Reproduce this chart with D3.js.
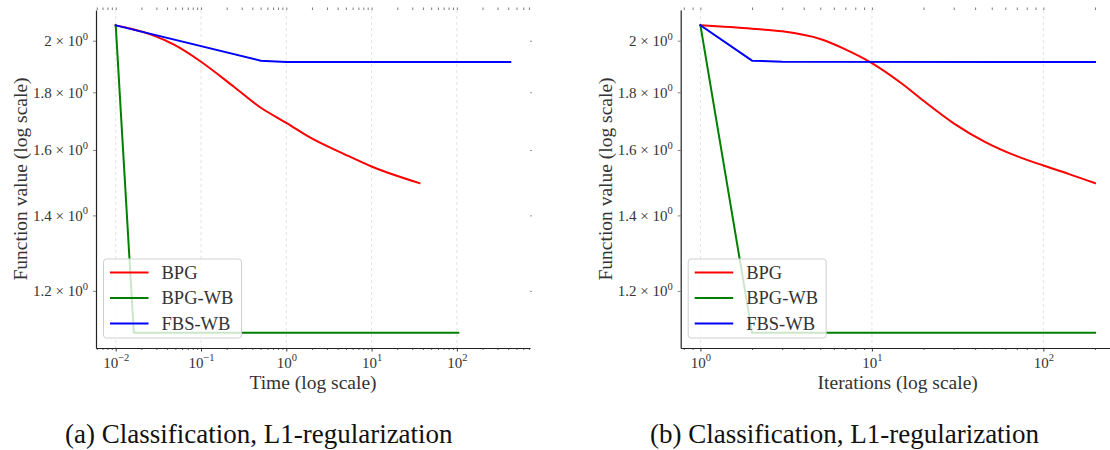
<!DOCTYPE html>
<html>
<head>
<meta charset="utf-8">
<script src="https://cdn.jsdelivr.net/npm/d3@7"></script>
<style>
body { margin: 0; background: #fff; }
svg text { font-family: "Liberation Serif", "DejaVu Serif", "Times New Roman", Times, serif; }
</style>
</head>
<body>
<svg id="fig" width="1110" height="450" font-family="Liberation Serif, DejaVu Serif, serif"></svg>
<script>
var seriesNames = ["BPG", "BPG-WB", "FBS-WB"];
var seriesColors = ["#ff0000", "#008000", "#0000ff"];
var serif = "'Liberation Serif', 'DejaVu Serif', serif";

// panel (a): function value against time (s)
var bpgTime = [0.01, 0.0152, 0.026, 0.0483, 0.1, 0.243, 0.503, 1.0, 1.94, 4.71, 10, 36.4];
var bpgTimeVal = [2.0636, 2.0495, 2.0248, 1.9836, 1.916, 1.8205, 1.744, 1.6914, 1.640, 1.5876, 1.547, 1.4953];
var bpgwbTime = [0.01, 0.0163, 104];
var bpgwbTimeVal = [2.0636, 1.102, 1.102];
var fbswbTime = [0.01, 0.503, 1.0, 423];
var fbswbTimeVal = [2.0636, 1.920, 1.915, 1.915];

// panel (b): function value against iterations
var bpgIter = [1, 2, 3, 5, 7, 10, 15, 20, 30, 45, 70, 100, 140, 200];
var bpgIterVal = [2.0636, 2.0495, 2.0386, 2.007, 1.9652, 1.9108, 1.8317, 1.769, 1.6896, 1.6286, 1.580, 1.550, 1.524, 1.4953];
var bpgwbIter = [1, 2, 200];
var bpgwbIterVal = [2.0636, 1.102, 1.102];
var fbswbIter = [1, 2, 3, 200];
var fbswbIterVal = [2.0636, 1.920, 1.916, 1.915];

var yTicks = [1.2, 1.4, 1.6, 1.8, 2];
var yTickText = ["1.2", "1.4", "1.6", "1.8", "2"];

var svg = d3.select("#fig");
var W = 434, H = 338, TOP = 10;

function pad(vals) {
  var lo = d3.min(vals), hi = d3.max(vals);
  var s = Math.log(hi / lo) * 0.05;
  return [lo / Math.exp(s), hi * Math.exp(s)];
}

function zip(xs, ys) {
  return xs.map(function(v, i) { return [v, ys[i]]; });
}

function txt(sel, size) {
  return sel.append("text").style("font-family", serif).style("font-size", size + "px").attr("fill", "#333");
}

function drawPanel(left, series, xlabel, caption, capX) {
  var g = svg.append("g").attr("transform", "translate(" + left + "," + TOP + ")");
  var allX = [], allY = [];
  series.forEach(function(s) { allX = allX.concat(s.map(d => d[0])); allY = allY.concat(s.map(d => d[1])); });

  var x = d3.scaleLog().domain(pad(allX)).range([0, W]);
  var y = d3.scaleLog().domain(pad(allY)).range([H, 0]);

  var allTicks = x.ticks();
  var majors = allTicks.filter(function(t) { return Math.abs(Math.log10(t) - Math.round(Math.log10(t))) < 1e-9; });
  var minors = allTicks.filter(function(t) { return majors.indexOf(t) < 0; });

  // grid
  g.selectAll(".grid").data(majors).enter().append("line")
    .attr("x1", d => x(d)).attr("x2", d => x(d))
    .attr("y1", 0).attr("y2", H)
    .attr("stroke", "#dcdcdc").attr("stroke-width", 0.8)
    .attr("stroke-dasharray", "3,3");

  // top and right ticks
  var topAx = g.append("g").call(d3.axisTop(x).tickValues(allTicks).tickSize(2.5).tickFormat(""));
  topAx.select(".domain").remove();
  topAx.selectAll("line").attr("stroke", "#444").attr("stroke-width", 0.7);
  var rightAx = g.append("g").attr("transform", "translate(" + W + ",0)")
    .call(d3.axisRight(y).tickValues(yTicks).tickSize(2).tickFormat(""));
  rightAx.select(".domain").remove();
  rightAx.selectAll("line").attr("stroke", "#666").attr("stroke-width", 0.7);

  // bottom axis
  var botMinor = g.append("g").attr("transform", "translate(0," + H + ")")
    .call(d3.axisBottom(x).tickValues(minors).tickSize(2).tickSizeOuter(0).tickFormat(""));
  botMinor.select(".domain").attr("stroke", "#222").attr("stroke-width", 1.2);
  botMinor.selectAll("line").attr("stroke", "#222").attr("stroke-width", 0.7);
  var botMajor = g.append("g").attr("transform", "translate(0," + H + ")")
    .call(d3.axisBottom(x).tickValues(majors).tickSize(3.5).tickFormat(""));
  botMajor.select(".domain").remove();
  botMajor.selectAll("line").attr("stroke", "#222").attr("stroke-width", 0.9);
  botMajor.selectAll(".tick").each(function(d) {
    var t = txt(d3.select(this), 15).attr("y", 19.5).attr("text-anchor", "middle");
    t.append("tspan").text("10");
    var e = Math.round(Math.log10(d));
    t.append("tspan").attr("dy", -6.5).style("font-size", "10.5px").text(e < 0 ? "\u2212" + (-e) : String(e));
  });

  // left axis
  var leftAx = g.append("g").call(d3.axisLeft(y).tickValues(yTicks).tickSize(3).tickSizeOuter(0).tickFormat(""));
  leftAx.select(".domain").attr("stroke", "#222").attr("stroke-width", 1.2);
  leftAx.selectAll("line").attr("stroke", "#555").attr("stroke-width", 0.7);
  leftAx.selectAll(".tick").each(function(d, i) {
    var t = txt(d3.select(this), 15).attr("x", -8).attr("dy", 5).attr("text-anchor", "end");
    t.append("tspan").text(yTickText[i] + " \u00d7 10");
    t.append("tspan").attr("dy", -6.5).style("font-size", "10.5px").text("0");
  });

  // data lines (BPG drawn smooth, the others as plain polylines)
  series.forEach(function(s, i) {
    var line = d3.line().x(d => x(d[0])).y(d => y(d[1]))
      .curve(i === 0 ? d3.curveMonotoneX : d3.curveLinear);
    g.append("path").datum(s).attr("d", line)
      .attr("fill", "none").attr("stroke", seriesColors[i])
      .attr("stroke-width", 2).attr("stroke-linejoin", "round").attr("stroke-linecap", "square");
  });

  // legend
  var lg = g.append("g").attr("transform", "translate(7.5," + (H - 89) + ")");
  lg.append("rect").attr("width", 138).attr("height", 79).attr("rx", 3)
    .attr("fill", "#fff").attr("fill-opacity", 0.8)
    .attr("stroke", "#d0d0d0").attr("stroke-width", 1);
  seriesNames.forEach(function(n, i) {
    var ry = 13.5 + i * 25.5;
    lg.append("line").attr("x1", 6.5).attr("x2", 45).attr("y1", ry).attr("y2", ry)
      .attr("stroke", seriesColors[i]).attr("stroke-width", 2);
    txt(lg, 18.5).attr("x", 58).attr("y", ry + 6).text(n);
  });

  // axis labels
  txt(g, 19.5).attr("x", W / 2).attr("y", 379).attr("text-anchor", "middle").text(xlabel);
  txt(g, 19.5).attr("transform", "translate(-69," + (H / 2) + ") rotate(-90)")
    .attr("text-anchor", "middle").text("Function value (log scale)");

  txt(svg, 27).attr("x", capX).attr("y", 443).attr("fill", "#111").text(caption);
}

drawPanel(96,
  [zip(bpgTime, bpgTimeVal), zip(bpgwbTime, bpgwbTimeVal), zip(fbswbTime, fbswbTimeVal)],
  "Time (log scale)", "(a) Classification, L1-regularization", 65);
drawPanel(680.7,
  [zip(bpgIter, bpgIterVal), zip(bpgwbIter, bpgwbIterVal), zip(fbswbIter, fbswbIterVal)],
  "Iterations (log scale)", "(b) Classification, L1-regularization", 650);
</script>
</body>
</html>
